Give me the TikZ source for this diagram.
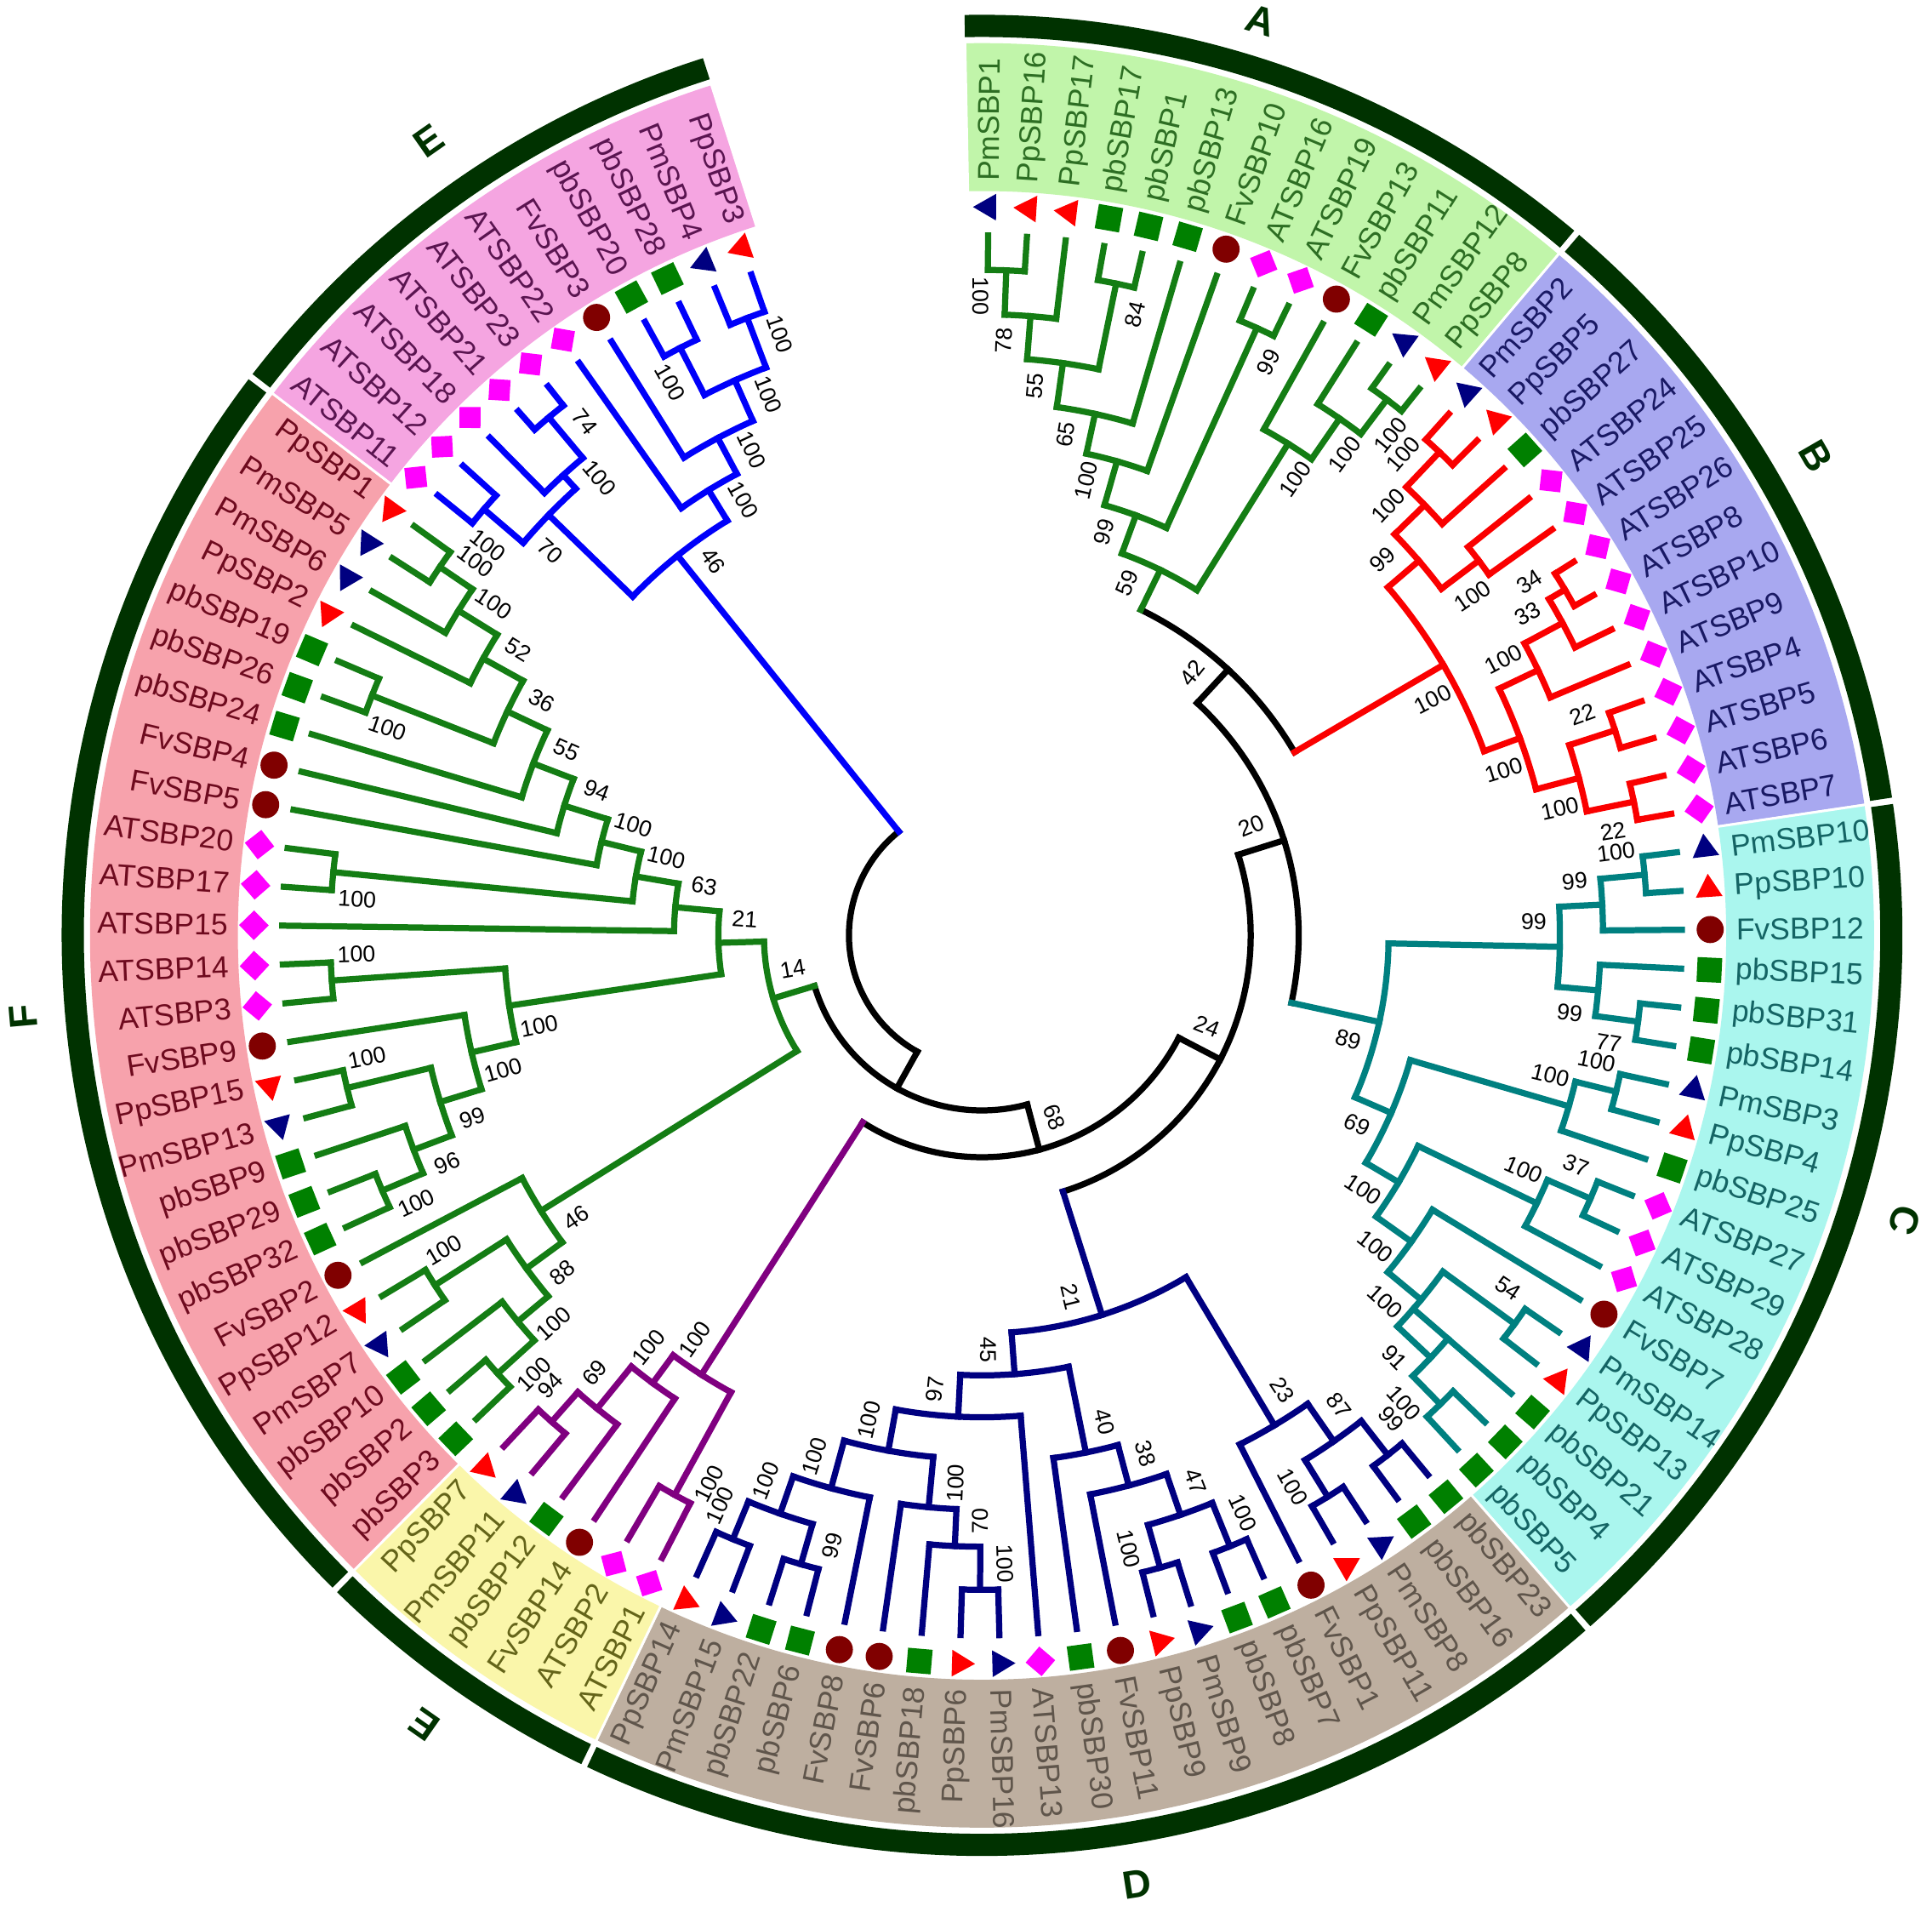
\documentclass[tikz,border=0pt]{standalone}
\usepackage{fontspec}
\setmainfont{Liberation Sans}
\usetikzlibrary{shapes.geometric}
\definecolor{cG}{RGB}{20,125,20}
\definecolor{cB}{RGB}{250,0,0}
\definecolor{cC}{RGB}{0,128,128}
\definecolor{cD}{RGB}{0,0,128}
\definecolor{cY}{RGB}{128,0,128}
\definecolor{cE}{RGB}{0,0,250}
\definecolor{ringc}{RGB}{0,50,0}
\definecolor{bandA}{RGB}{193,245,170}
\definecolor{bandB}{RGB}{168,168,240}
\definecolor{bandC}{RGB}{170,246,238}
\definecolor{bandD}{RGB}{190,175,160}
\definecolor{bandY}{RGB}{250,246,170}
\definecolor{bandF}{RGB}{247,162,172}
\definecolor{bandE}{RGB}{245,165,225}
\definecolor{tA}{RGB}{45,110,35}
\definecolor{tB}{RGB}{25,25,100}
\definecolor{tC}{RGB}{20,100,100}
\definecolor{tD}{RGB}{95,85,75}
\definecolor{tY}{RGB}{100,100,25}
\definecolor{tF}{RGB}{110,10,30}
\definecolor{tE}{RGB}{90,20,80}
\definecolor{mPm}{RGB}{0,0,128}
\definecolor{mPp}{RGB}{255,0,0}
\definecolor{mpb}{RGB}{0,128,0}
\definecolor{mFv}{RGB}{128,0,0}
\definecolor{mAT}{RGB}{255,0,255}
% angle of leaf index i: 89.5-3.18*i
\newcommand\ARC[4]{%
 \pgfmathsetmacro\aA{89.5-3.18*(#3)}%
 \pgfmathsetmacro\aB{89.5-3.18*(#4)}%
 \draw[tl,#1] (\aA:#2) arc[start angle=\aA,end angle=\aB,radius=#2pt];}
\newcommand\RAD[4]{%
 \pgfmathsetmacro\aN{89.5-3.18*(#2)}%
 \draw[tl,#1] (\aN:#3) -- (\aN:#4);}
\newcommand\BS[4]{%
 \pgfmathsetmacro\aL{89.5-3.18*(#1)+(#4)*1200/(#2)}%
 \pgfmathsetmacro\rL{#2-21}%
 \pgfmathtruncatemacro\sR{cos(\aL)>=0?1:0}%
 \ifnum\sR=1 \pgfmathsetmacro\rotL{\aL}\else\pgfmathsetmacro\rotL{\aL+180}\fi
 \node[bslab,rotate=\rotL] at (\aL:\rL) {#3};}
\newcommand\ND[8]{\RAD{#1}{#2}{#3}{#4}\ARC{#1}{#4}{#5}{#6}\BS{#2}{#4}{#7}{#8}}
\newcommand\LF[3]{\RAD{#1}{#2}{#3}{568}}
\newcommand\mkPm{\node[mtri,fill=mPm,rotate=\aM] at (\aM:591) {};}
\newcommand\mkPp{\node[mtri,fill=mPp,rotate=\aM] at (\aM:591) {};}
\newcommand\mkpb{\node[msq,fill=mpb,rotate=\aM] at (\aM:591) {};}
\newcommand\mkFv{\node[mcirc,fill=mFv] at (\aM:591) {};}
\newcommand\mkAT{\pgfmathsetmacro\aD{\aM+45}\node[msq,minimum size=17pt,fill=mAT,rotate=\aD] at (\aM:591) {};}
\newcommand\LB[4]{%
 \pgfmathsetmacro\aM{89.5-3.18*(#1)}%
 \csname mk#3\endcsname
 \pgfmathtruncatemacro\sR{cos(\aM)>=0?1:0}%
 \ifnum\sR=1
   \node[leaflab,text=#4,anchor=west,rotate=\aM] at (\aM:612) {#2};
 \else
   \pgfmathsetmacro\rotM{\aM+180}%
   \node[leaflab,text=#4,anchor=east,rotate=\rotM] at (\aM:612) {#2};
 \fi}
\newcommand\BAND[3]{%
 \pgfmathsetmacro\aS{89.5-3.18*(#2-0.5)}%
 \pgfmathsetmacro\aE{89.5-3.18*(#3+0.5)}%
 \fill[#1] (\aS:604) arc[start angle=\aS,end angle=\aE,radius=604pt] -- (\aE:724) arc[start angle=\aE,end angle=\aS,radius=724pt] -- cycle;
 \draw[white,line width=2pt] (\aS:600) -- (\aS:728) (\aE:600) -- (\aE:728);}
\newcommand\RING[4]{%
 \pgfmathsetmacro\aS{89.5-3.18*(#1-0.5)-(#3)}%
 \pgfmathsetmacro\aE{89.5-3.18*(#2+0.5)+(#4)}%
 \draw[ringc,line width=18pt] (\aS:738) arc[start angle=\aS,end angle=\aE,radius=738pt];}
\begin{document}
\begin{tikzpicture}[x=1pt,y=1pt,
 tl/.style={line width=5pt,line cap=rect},
 bslab/.style={font=\fontsize{18.5}{20}\selectfont,inner sep=0pt,text=black},
 leaflab/.style={font=\fontsize{24.5}{27}\selectfont,inner sep=0pt},
 mtri/.style={regular polygon,regular polygon sides=3,inner sep=0pt,minimum size=25pt},
 msq/.style={inner sep=0pt,minimum size=20pt},
 mcirc/.style={circle,inner sep=0pt,minimum size=22pt},
 cladelet/.style={font=\fontsize{32}{34}\selectfont\bfseries,text=ringc,inner sep=0pt}]
\fill[white] (0,0) rectangle (1568,1551);
\useasboundingbox (0,0) rectangle (1568,1551);
\begin{scope}[shift={(797,792)}]
% ---- bands ----
\BAND{bandA}{0}{12}
\BAND{bandB}{13}{25}
\BAND{bandC}{26}{43}
\BAND{bandD}{44}{64}
\BAND{bandY}{65}{70}
\BAND{bandF}{71}{96}
\BAND{bandE}{97}{107}
% ---- ring ----
\RING{0}{12}{0}{0.2}
\RING{13}{25}{0.2}{0.2}
\RING{26}{43}{0.2}{0.2}
\RING{44}{64}{0.2}{0.2}
\RING{65}{70}{0.2}{0.2}
\RING{71}{96}{0.2}{0.2}
\RING{97}{107}{0.2}{0}
% ---- backbone ----
\ARC{black}{108}{65.6}{100.875}
\ND{black}{65.6}{108}{142}{51.74}{79.47}{}{1}
\ND{black}{51.74}{142}{180}{36.79}{66.69}{68}{1}
\ND{black}{36.79}{180}{218}{22.65}{50.93}{24}{1}
\ND{black}{22.65}{218}{257}{13.3}{32.01}{20}{1}
\ND{black}{13.3}{257}{294}{8.02}{18.59}{42}{1}
% ---- clade A ----
\ND{cG}{8.02}{294}{330}{6.17}{9.875}{59}{1}
\ND{cG}{6.17}{330}{363}{4.84}{7.5}{99}{1}
\ND{cG}{4.84}{363}{400}{3.6875}{6}{100}{1}
\ND{cG}{3.6875}{400}{433}{2.375}{5}{65}{1}
\ND{cG}{2.375}{433}{469}{1.25}{3.5}{55}{1}
\ND{cG}{1.25}{469}{504}{0.5}{2}{78}{1}
\ND{cG}{0.5}{504}{540}{0}{1}{100}{1}
\ND{cG}{3.5}{469}{540}{3}{4}{84}{-1}
\ND{cG}{7.5}{363}{541}{7}{8}{99}{-1}
\ND{cG}{9.875}{330}{470}{9}{10.75}{100}{-1}
\ND{cG}{10.75}{470}{510}{10}{11.5}{100}{-1}
\ND{cG}{11.5}{510}{545}{11}{12}{100}{-1}
\LF{cG}{0}{540}\LF{cG}{1}{540}\LF{cG}{2}{504}\LF{cG}{3}{540}\LF{cG}{4}{540}
\LF{cG}{5}{433}\LF{cG}{6}{400}\LF{cG}{7}{541}\LF{cG}{8}{541}\LF{cG}{9}{470}
\LF{cG}{10}{510}\LF{cG}{11}{545}\LF{cG}{12}{545}
% ---- clade B ----
\ND{cB}{18.59}{294}{434}{15.375}{21.81}{100}{-1}
\ND{cB}{15.375}{434}{467}{14.25}{16.5}{99}{1}
\ND{cB}{14.25}{467}{501}{13.5}{15}{100}{1}
\ND{cB}{13.5}{501}{540}{13}{14}{100}{1}
\ND{cB}{16.5}{467}{505}{16}{17}{100}{-1}
\ND{cB}{21.81}{434}{465}{20.125}{23.5}{100}{-1}
\ND{cB}{20.125}{465}{500}{19.25}{21}{100}{1}
\ND{cB}{19.25}{500}{535}{18.5}{20}{33}{1}
\ND{cB}{18.5}{535}{550}{18}{19}{34}{1}
\ND{cB}{23.5}{465}{501}{22.5}{24.5}{100}{-1}
\ND{cB}{22.5}{501}{540}{22}{23}{22}{1}
\ND{cB}{24.5}{501}{540}{24}{25}{22}{-1}
\LF{cB}{13}{540}\LF{cB}{14}{540}\LF{cB}{15}{501}\LF{cB}{16}{505}\LF{cB}{17}{505}
\LF{cB}{18}{550}\LF{cB}{19}{550}\LF{cB}{20}{535}\LF{cB}{21}{500}\LF{cB}{22}{540}
\LF{cB}{23}{540}\LF{cB}{24}{540}\LF{cB}{25}{540}
% ---- clade C ----
\ND{cC}{32.01}{257}{330}{28.5}{35.52}{89}{-1}
\ND{cC}{28.5}{330}{469}{27.25}{29.75}{99}{1}
\ND{cC}{27.25}{469}{504}{26.5}{28}{99}{1}
\ND{cC}{26.5}{504}{540}{26}{27}{100}{1}
\ND{cC}{29.75}{469}{502}{29}{30.5}{99}{-1}
\ND{cC}{30.5}{502}{537}{30}{31}{77}{-1}
\ND{cC}{35.52}{330}{362}{33.25}{37.78}{69}{-1}
\ND{cC}{33.25}{362}{496}{32.5}{34}{100}{1}
\ND{cC}{32.5}{496}{530}{32}{33}{100}{1}
\ND{cC}{37.78}{362}{393}{36.25}{39.31}{100}{-1}
\ND{cC}{36.25}{393}{500}{35.5}{37}{100}{1}
\ND{cC}{35.5}{500}{538}{35}{36}{37}{1}
\ND{cC}{39.31}{393}{428}{38}{40.625}{100}{-1}
\ND{cC}{40.625}{428}{463}{39.5}{41.75}{100}{-1}
\ND{cC}{39.5}{463}{535}{39}{40}{54}{1}
\ND{cC}{41.75}{463}{500}{41}{42.5}{91}{-1}
\ND{cC}{42.5}{500}{532}{42}{43}{100}{-1}
\LF{cC}{26}{540}\LF{cC}{27}{540}\LF{cC}{28}{504}\LF{cC}{29}{502}\LF{cC}{30}{537}
\LF{cC}{31}{537}\LF{cC}{32}{530}\LF{cC}{33}{530}\LF{cC}{34}{496}\LF{cC}{35}{538}
\LF{cC}{36}{538}\LF{cC}{37}{500}\LF{cC}{38}{428}\LF{cC}{39}{535}\LF{cC}{40}{535}
\LF{cC}{41}{463}\LF{cC}{42}{532}\LF{cC}{43}{532}
% ---- clade D ----
\ND{cD}{50.93}{218}{323}{46.75}{55.11}{21}{-1}
\ND{cD}{46.75}{323}{463}{45.5}{48}{23}{1}
\ND{cD}{45.5}{463}{500}{44.5}{46.5}{87}{1}
\ND{cD}{44.5}{500}{535}{44}{45}{99}{1}
\ND{cD}{46.5}{500}{535}{46}{47}{100}{-1}
\ND{cD}{55.11}{323}{357}{52.875}{57.34}{45}{-1}
\ND{cD}{52.875}{357}{428}{51.75}{54}{40}{1}
\ND{cD}{51.75}{428}{462}{50.5}{53}{38}{1}
\ND{cD}{50.5}{462}{497}{49.5}{51.5}{47}{1}
\ND{cD}{49.5}{497}{535}{49}{50}{100}{1}
\ND{cD}{51.5}{497}{533}{51}{52}{100}{-1}
\ND{cD}{57.34}{357}{391}{55}{59.69}{97}{-1}
\ND{cD}{59.69}{391}{425}{58.125}{61.25}{100}{-1}
\ND{cD}{58.125}{425}{466}{57.25}{59}{100}{1}
\ND{cD}{57.25}{466}{496}{56.5}{58}{70}{1}
\ND{cD}{56.5}{496}{531}{56}{57}{100}{1}
\ND{cD}{61.25}{425}{465}{60}{62.5}{100}{-1}
\ND{cD}{62.5}{465}{497}{61.5}{63.5}{100}{-1}
\ND{cD}{61.5}{497}{531}{61}{62}{99}{1}
\ND{cD}{63.5}{497}{530}{63}{64}{100}{-1}
\LF{cD}{44}{535}\LF{cD}{45}{535}\LF{cD}{46}{535}\LF{cD}{47}{535}\LF{cD}{48}{463}
\LF{cD}{49}{535}\LF{cD}{50}{535}\LF{cD}{51}{533}\LF{cD}{52}{533}\LF{cD}{53}{462}
\LF{cD}{54}{428}\LF{cD}{55}{391}\LF{cD}{56}{531}\LF{cD}{57}{531}\LF{cD}{58}{496}
\LF{cD}{59}{466}\LF{cD}{60}{465}\LF{cD}{61}{531}\LF{cD}{62}{531}\LF{cD}{63}{530}
\LF{cD}{64}{530}
% ---- clade Y (purple) ----
\ND{cY}{66.69}{180}{423}{65.5}{67.875}{100}{-1}
\ND{cY}{65.5}{423}{518}{65}{66}{100}{1}
\ND{cY}{67.875}{423}{451}{67}{68.75}{100}{-1}
\ND{cY}{68.75}{451}{495}{68}{69.5}{69}{-1}
\ND{cY}{69.5}{495}{527}{69}{70}{94}{-1}
\LF{cY}{65}{518}\LF{cY}{66}{518}\LF{cY}{67}{451}\LF{cY}{68}{495}\LF{cY}{69}{527}\LF{cY}{70}{527}
% ---- clade F ----
\ND{cG}{79.47}{142}{177}{74.69}{84.24}{14}{-1}
\ND{cG}{74.69}{177}{422}{73.375}{76}{46}{1}
\ND{cG}{73.375}{422}{458}{72.25}{74.5}{88}{1}
\ND{cG}{72.25}{458}{490}{71.5}{73}{100}{1}
\ND{cG}{71.5}{490}{530}{71}{72}{100}{1}
\ND{cG}{74.5}{458}{527}{74}{75}{100}{-1}
\ND{cG}{84.24}{177}{214}{82.09}{86.4}{21}{-1}
\ND{cG}{82.09}{214}{388}{80.69}{83.5}{100}{1}
\ND{cG}{80.69}{388}{425}{79.375}{82}{100}{1}
\ND{cG}{79.375}{425}{460}{78.25}{80.5}{99}{1}
\ND{cG}{78.25}{460}{493}{77.5}{79}{96}{1}
\ND{cG}{77.5}{493}{529}{77}{78}{100}{1}
\ND{cG}{80.5}{460}{530}{80}{81}{100}{-1}
\ND{cG}{83.5}{388}{529}{83}{84}{100}{-1}
\ND{cG}{86.4}{214}{250}{85}{87.79}{63}{-1}
\ND{cG}{87.79}{250}{285}{86.5}{89.09}{100}{-1}
\ND{cG}{86.5}{285}{529}{86}{87}{100}{1}
\ND{cG}{89.09}{285}{318}{88}{90.17}{100}{-1}
\ND{cG}{90.17}{318}{355}{89}{91.34}{94}{-1}
\ND{cG}{91.34}{355}{390}{90}{92.69}{55}{-1}
\ND{cG}{92.69}{390}{426}{91.5}{93.875}{36}{-1}
\ND{cG}{91.5}{426}{532}{91}{92}{100}{1}
\ND{cG}{93.875}{426}{463}{93}{94.75}{52}{-1}
\ND{cG}{94.75}{463}{500}{94}{95.5}{100}{-1}
\ND{cG}{95.5}{500}{532}{95}{96}{100}{-1}
\LF{cG}{71}{530}\LF{cG}{72}{530}\LF{cG}{73}{490}\LF{cG}{74}{527}\LF{cG}{75}{527}
\LF{cG}{76}{422}\LF{cG}{77}{529}\LF{cG}{78}{529}\LF{cG}{79}{493}\LF{cG}{80}{530}
\LF{cG}{81}{530}\LF{cG}{82}{425}\LF{cG}{83}{529}\LF{cG}{84}{529}\LF{cG}{85}{250}
\LF{cG}{86}{529}\LF{cG}{87}{529}\LF{cG}{88}{318}\LF{cG}{89}{355}\LF{cG}{90}{390}
\LF{cG}{91}{532}\LF{cG}{92}{532}\LF{cG}{93}{463}\LF{cG}{94}{500}\LF{cG}{95}{532}
\LF{cG}{96}{532}
% ---- clade E ----
\ND{cE}{100.875}{108}{395}{98.625}{103.125}{46}{-1}
\ND{cE}{98.625}{395}{490}{97.5}{99.75}{70}{1}
\ND{cE}{97.5}{490}{532}{97}{98}{100}{1}
\ND{cE}{99.75}{490}{505}{99}{100.5}{100}{-1}
\ND{cE}{100.5}{505}{548}{100}{101}{74}{-1}
\ND{cE}{103.125}{395}{424}{102}{104.25}{100}{-1}
\ND{cE}{104.25}{424}{457}{103}{105.5}{100}{-1}
\ND{cE}{105.5}{457}{493}{104.5}{106.5}{100}{-1}
\ND{cE}{104.5}{493}{536}{104}{105}{100}{1}
\ND{cE}{106.5}{493}{536}{106}{107}{100}{-1}
\LF{cE}{97}{532}\LF{cE}{98}{532}\LF{cE}{99}{505}\LF{cE}{100}{548}\LF{cE}{101}{548}
\LF{cE}{102}{424}\LF{cE}{103}{457}\LF{cE}{104}{536}\LF{cE}{105}{536}\LF{cE}{106}{536}
\LF{cE}{107}{536}
% ---- leaves: markers + labels ----
\LB{0}{PmSBP1}{Pm}{tA}\LB{1}{PpSBP16}{Pp}{tA}\LB{2}{PpSBP17}{Pp}{tA}\LB{3}{pbSBP17}{pb}{tA}
\LB{4}{pbSBP1}{pb}{tA}\LB{5}{pbSBP13}{pb}{tA}\LB{6}{FvSBP10}{Fv}{tA}\LB{7}{ATSBP16}{AT}{tA}
\LB{8}{ATSBP19}{AT}{tA}\LB{9}{FvSBP13}{Fv}{tA}\LB{10}{pbSBP11}{pb}{tA}\LB{11}{PmSBP12}{Pm}{tA}
\LB{12}{PpSBP8}{Pp}{tA}
\LB{13}{PmSBP2}{Pm}{tB}\LB{14}{PpSBP5}{Pp}{tB}\LB{15}{pbSBP27}{pb}{tB}\LB{16}{ATSBP24}{AT}{tB}
\LB{17}{ATSBP25}{AT}{tB}\LB{18}{ATSBP26}{AT}{tB}\LB{19}{ATSBP8}{AT}{tB}\LB{20}{ATSBP10}{AT}{tB}
\LB{21}{ATSBP9}{AT}{tB}\LB{22}{ATSBP4}{AT}{tB}\LB{23}{ATSBP5}{AT}{tB}\LB{24}{ATSBP6}{AT}{tB}
\LB{25}{ATSBP7}{AT}{tB}
\LB{26}{PmSBP10}{Pm}{tC}\LB{27}{PpSBP10}{Pp}{tC}\LB{28}{FvSBP12}{Fv}{tC}\LB{29}{pbSBP15}{pb}{tC}
\LB{30}{pbSBP31}{pb}{tC}\LB{31}{pbSBP14}{pb}{tC}\LB{32}{PmSBP3}{Pm}{tC}\LB{33}{PpSBP4}{Pp}{tC}
\LB{34}{pbSBP25}{pb}{tC}\LB{35}{ATSBP27}{AT}{tC}\LB{36}{ATSBP29}{AT}{tC}\LB{37}{ATSBP28}{AT}{tC}
\LB{38}{FvSBP7}{Fv}{tC}\LB{39}{PmSBP14}{Pm}{tC}\LB{40}{PpSBP13}{Pp}{tC}\LB{41}{pbSBP21}{pb}{tC}
\LB{42}{pbSBP4}{pb}{tC}\LB{43}{pbSBP5}{pb}{tC}
\LB{44}{pbSBP23}{pb}{tD}\LB{45}{pbSBP16}{pb}{tD}\LB{46}{PmSBP8}{Pm}{tD}\LB{47}{PpSBP11}{Pp}{tD}
\LB{48}{FvSBP1}{Fv}{tD}\LB{49}{pbSBP7}{pb}{tD}\LB{50}{pbSBP8}{pb}{tD}\LB{51}{PmSBP9}{Pm}{tD}
\LB{52}{PpSBP9}{Pp}{tD}\LB{53}{FvSBP11}{Fv}{tD}\LB{54}{pbSBP30}{pb}{tD}\LB{55}{ATSBP13}{AT}{tD}
\LB{56}{PmSBP16}{Pm}{tD}\LB{57}{PpSBP6}{Pp}{tD}\LB{58}{pbSBP18}{pb}{tD}\LB{59}{FvSBP6}{Fv}{tD}
\LB{60}{FvSBP8}{Fv}{tD}\LB{61}{pbSBP6}{pb}{tD}\LB{62}{pbSBP22}{pb}{tD}\LB{63}{PmSBP15}{Pm}{tD}
\LB{64}{PpSBP14}{Pp}{tD}
\LB{65}{ATSBP1}{AT}{tY}\LB{66}{ATSBP2}{AT}{tY}\LB{67}{FvSBP14}{Fv}{tY}\LB{68}{pbSBP12}{pb}{tY}
\LB{69}{PmSBP11}{Pm}{tY}\LB{70}{PpSBP7}{Pp}{tY}
\LB{71}{pbSBP3}{pb}{tF}\LB{72}{pbSBP2}{pb}{tF}\LB{73}{pbSBP10}{pb}{tF}\LB{74}{PmSBP7}{Pm}{tF}
\LB{75}{PpSBP12}{Pp}{tF}\LB{76}{FvSBP2}{Fv}{tF}\LB{77}{pbSBP32}{pb}{tF}\LB{78}{pbSBP29}{pb}{tF}
\LB{79}{pbSBP9}{pb}{tF}\LB{80}{PmSBP13}{Pm}{tF}\LB{81}{PpSBP15}{Pp}{tF}\LB{82}{FvSBP9}{Fv}{tF}
\LB{83}{ATSBP3}{AT}{tF}\LB{84}{ATSBP14}{AT}{tF}\LB{85}{ATSBP15}{AT}{tF}\LB{86}{ATSBP17}{AT}{tF}
\LB{87}{ATSBP20}{AT}{tF}\LB{88}{FvSBP5}{Fv}{tF}\LB{89}{FvSBP4}{Fv}{tF}\LB{90}{pbSBP24}{pb}{tF}
\LB{91}{pbSBP26}{pb}{tF}\LB{92}{pbSBP19}{pb}{tF}\LB{93}{PpSBP2}{Pp}{tF}\LB{94}{PmSBP6}{Pm}{tF}
\LB{95}{PmSBP5}{Pm}{tF}\LB{96}{PpSBP1}{Pp}{tF}
\LB{97}{ATSBP11}{AT}{tE}\LB{98}{ATSBP12}{AT}{tE}\LB{99}{ATSBP18}{AT}{tE}\LB{100}{ATSBP21}{AT}{tE}
\LB{101}{ATSBP23}{AT}{tE}\LB{102}{ATSBP22}{AT}{tE}\LB{103}{FvSBP3}{Fv}{tE}\LB{104}{pbSBP20}{pb}{tE}
\LB{105}{pbSBP28}{pb}{tE}\LB{106}{PmSBP4}{Pm}{tE}\LB{107}{PpSBP3}{Pp}{tE}
\end{scope}
% ---- clade letters ----
\node[cladelet,rotate=-17] (lA) at (1023,1534) {A};
\node[cladelet,rotate=-60] (lB) at (1474,1181) {B};
\node[cladelet,rotate=-107] (lC) at (1546,561) {C};
\node[cladelet,rotate=9] (lD) at (923,22) {D};
\node[cladelet,rotate=145] (lY) at (344,152) {E};
\node[cladelet,rotate=95] (lF) at (19,726) {F};
\node[cladelet,rotate=35] (lE) at (348,1437) {E};
\end{tikzpicture}
\end{document}
